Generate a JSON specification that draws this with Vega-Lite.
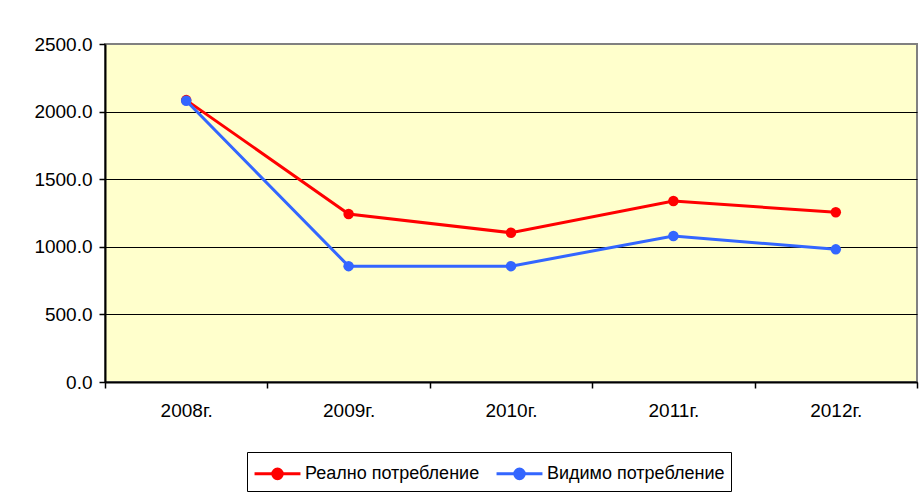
{
  "$schema": "https://vega.github.io/schema/vega-lite/v6.json",
  "width": 812,
  "height": 338,
  "autosize": {"type": "none"},
  "padding": {"left": 105, "top": 44, "right": 5, "bottom": 111},
  "background": "white",
  "config": {
    "font": "Liberation Sans",
    "view": {"fill": "#FFFFCC", "stroke": "#808080", "strokeWidth": 2},
    "axis": {"labelFont": "Liberation Sans", "labelColor": "black", "labelFontSize": 19, "title": null},
    "legend": {"labelFont": "Liberation Sans", "labelFontSize": 18, "labelColor": "black", "labelLimit": 0}
  },
  "data": {
    "values": [
      {"year": "2008г.", "series": "Реално потребление", "value": 2085},
      {"year": "2009г.", "series": "Реално потребление", "value": 1243},
      {"year": "2010г.", "series": "Реално потребление", "value": 1104},
      {"year": "2011г.", "series": "Реално потребление", "value": 1339},
      {"year": "2012г.", "series": "Реално потребление", "value": 1255},
      {"year": "2008г.", "series": "Видимо потребление", "value": 2080},
      {"year": "2009г.", "series": "Видимо потребление", "value": 857},
      {"year": "2010г.", "series": "Видимо потребление", "value": 857},
      {"year": "2011г.", "series": "Видимо потребление", "value": 1080},
      {"year": "2012г.", "series": "Видимо потребление", "value": 981}
    ]
  },
  "encoding": {
    "x": {
      "field": "year", "type": "ordinal",
      "scale": {"type": "band", "paddingInner": 0, "paddingOuter": 0},
      "axis": {
        "labelAngle": 0, "tickBand": "extent", "tickSize": 6, "tickColor": "black", "tickWidth": 1.5,
        "domainColor": "black", "domainWidth": 2, "labelPadding": 13, "grid": false
      }
    },
    "y": {
      "field": "value", "type": "quantitative",
      "scale": {"domain": [0, 2500], "nice": false},
      "axis": {
        "values": [0, 500, 1000, 1500, 2000, 2500], "format": ".1f",
        "tickSize": 6, "tickColor": "black", "tickWidth": 1.5, "labelPadding": 7,
        "domainColor": "black", "domainWidth": 2,
        "grid": true, "gridWidth": 1.2,
        "gridColor": {"condition": {"test": "datum.value === 2500", "value": "#808080"}, "value": "black"}
      }
    },
    "color": {
      "field": "series", "type": "nominal",
      "scale": {"domain": ["Реално потребление", "Видимо потребление"], "range": ["#FF0000", "#3366FF"]},
      "legend": {
        "title": null, "orient": "none", "direction": "horizontal",
        "legendX": 142, "legendY": 408,
        "strokeColor": "black", "padding": 6,
        "symbolType": "M-1.64,0H1.64M-0.34,0A0.34,0.34,0,1,0,0.34,0A0.34,0.34,0,1,0,-0.34,0Z",
        "symbolSize": 784, "symbolStrokeWidth": 3, "symbolOffset": 9,
        "labelOffset": 12, "columnPadding": 10
      }
    }
  },
  "layer": [
    {"mark": {"type": "line", "strokeWidth": 3}},
    {"mark": {"type": "point", "filled": true, "size": 110, "opacity": 1}}
  ]
}
